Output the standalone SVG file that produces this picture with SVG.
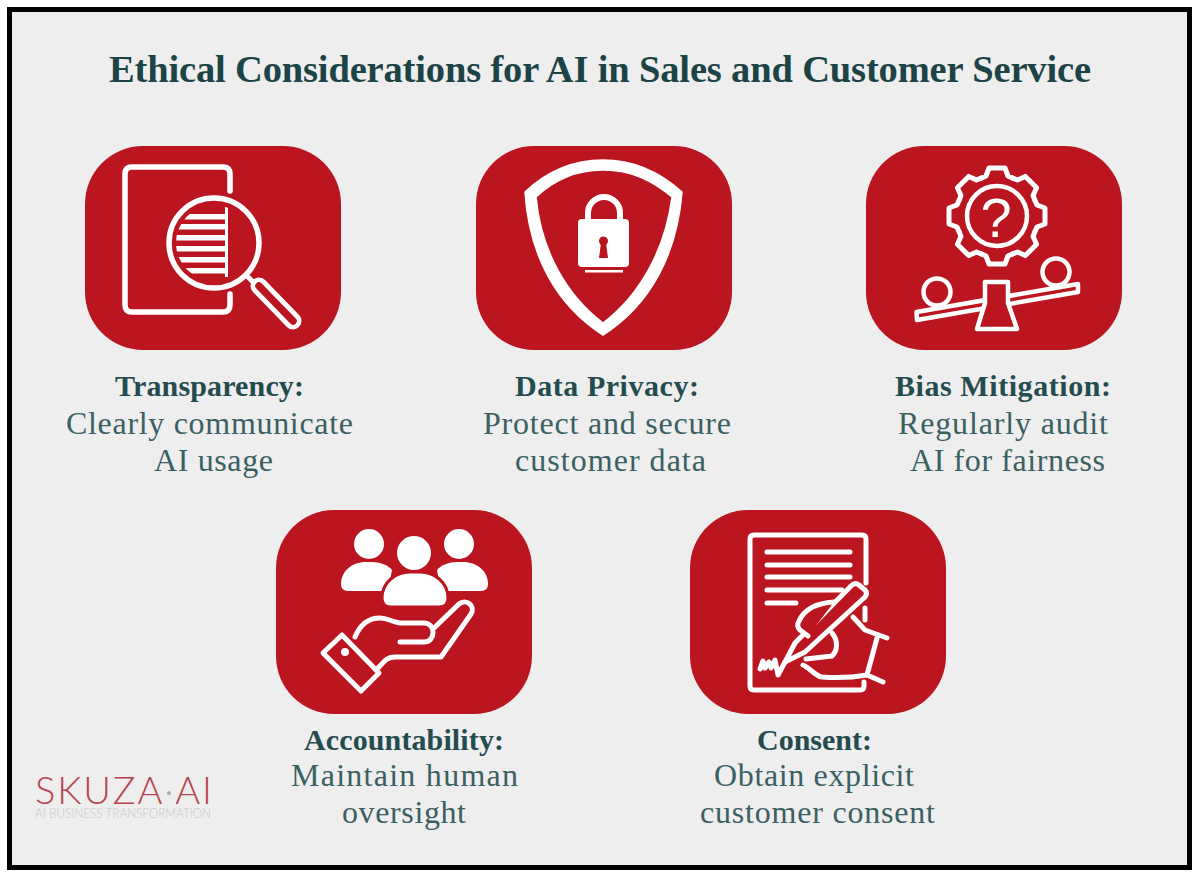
<svg xmlns="http://www.w3.org/2000/svg" xmlns:xlink="http://www.w3.org/1999/xlink" width="1200" height="882" viewBox="0 0 1200 882">
<style>
.card{fill:#bb1520}
.ln{fill:none;stroke:#fff;stroke-width:5;stroke-linecap:round;stroke-linejoin:round}
.wf{fill:#fff}
.rf{fill:#bb1520}
.title{font:bold 38.500px "Liberation Serif",serif;fill:#1c4446}
.h{font:bold 30px "Liberation Serif",serif;fill:#244c4e}
.b{font:32px "Liberation Serif",serif;fill:#3a6062}
</style>
<defs>
<clipPath id="lens"><circle cx="214" cy="243" r="38"/></clipPath>
<path id="tooth" d="M-15.7,-37.9 L-11,-40 L-8,-48 H8 L11,-40 L15.7,-37.9" class="ln"/>
</defs>
<rect x="9.500" y="9.500" width="1180" height="858" fill="#eeeeee" stroke="#000" stroke-width="5"/>
<text class="title" x="109" y="82" textLength="982" lengthAdjust="spacing">Ethical Considerations for AI in Sales and Customer Service</text>

<g id="transparency">
<rect class="card" x="85" y="146" width="256" height="204" rx="58"/>
<path class="ln" style="stroke-width:5.500" d="M230,191 V174 Q230,167 223,167 H132 Q125,167 125,174 V305 Q125,312 132,312 H223 Q230,312 230,305 V294"/>
<circle cx="214" cy="243" r="45" fill="none" stroke="#fff" stroke-width="5.500"/>
<g clip-path="url(#lens)" class="wf">
<rect x="170" y="214" width="57" height="5.500"/><rect x="170" y="224" width="57" height="5.500"/><rect x="170" y="235" width="57" height="5.500"/><rect x="170" y="246" width="57" height="5.500"/><rect x="170" y="257" width="57" height="5.500"/><rect x="170" y="268" width="57" height="5.500"/>
<rect x="225" y="205" width="3" height="72"/>
</g>
<path class="ln" d="M246,275 L254,283"/>
<path d="M259,286 L293,321" fill="none" stroke="#fff" stroke-width="17" stroke-linecap="round"/>
<path d="M259,286 L293,321" fill="none" stroke="#bb1520" stroke-width="7.500" stroke-linecap="round"/>
<text class="h" x="115" y="396" textLength="189" lengthAdjust="spacing">Transparency:</text>
<text class="b" x="66" y="434" textLength="287" lengthAdjust="spacing">Clearly communicate</text>
<text class="b" x="154" y="471" textLength="119" lengthAdjust="spacing">AI usage</text>
</g>

<g id="data-privacy">
<rect class="card" x="476" y="146" width="256" height="204" rx="58"/>
<path class="wf" fill-rule="evenodd" stroke="#fff" stroke-width="1.500" stroke-linejoin="round" d="M603,160 C636,160 662,174 682,192 C677,255 650,305 603,335 C556,305 529,255 525,192 C544,174 570,160 603,160 Z M603,170 C574,170 553,181 536,197 C541,250 566,295 603,323 C640,295 665,250 672,197 C653,181 632,170 603,170 Z"/>
<rect class="wf" x="578" y="219" width="51" height="48" rx="4"/>
<path d="M588,221 V213 A16,16 0 0 1 620,213 V221" fill="none" stroke="#fff" stroke-width="6"/>
<rect class="wf" x="585" y="270" width="38" height="2.500"/>
<circle class="rf" cx="603.500" cy="241" r="4.500"/>
<path class="rf" d="M601,243 H606 L608,258 H599 Z"/>
<text class="h" x="515" y="396" textLength="184" lengthAdjust="spacing">Data Privacy:</text>
<text class="b" x="483" y="434" textLength="248" lengthAdjust="spacing">Protect and secure</text>
<text class="b" x="515" y="471" textLength="191" lengthAdjust="spacing">customer data</text>
</g>

<g id="bias-mitigation">
<rect class="card" x="866" y="146" width="256" height="204" rx="58"/>
<g transform="translate(997,216)">
<use xlink:href="#tooth" href="#tooth"/>
<use xlink:href="#tooth" href="#tooth" transform="rotate(45)"/>
<use xlink:href="#tooth" href="#tooth" transform="rotate(90)"/>
<use xlink:href="#tooth" href="#tooth" transform="rotate(135)"/>
<use xlink:href="#tooth" href="#tooth" transform="rotate(180)"/>
<use xlink:href="#tooth" href="#tooth" transform="rotate(225)"/>
<use xlink:href="#tooth" href="#tooth" transform="rotate(270)"/>
<use xlink:href="#tooth" href="#tooth" transform="rotate(315)"/>
<circle r="30" fill="none" stroke="#fff" stroke-width="4.500"/>
</g>
<text x="996" y="237" text-anchor="middle" font-family="'Liberation Sans',sans-serif" font-size="56" fill="#fff">?</text>
<circle cx="937" cy="292" r="13.500" fill="none" stroke="#fff" stroke-width="4.500"/>
<circle cx="1056" cy="272" r="13.500" fill="none" stroke="#fff" stroke-width="4.500"/>
<path class="ln" style="fill:#bb1520;stroke-width:4.500" d="M916.500,312 L1078,284 V292 L917,320 Z"/>
<path class="ln" style="fill:#bb1520;stroke-width:4.500" d="M985,282 H1008 V303 L1017,329 H977 L985,303 Z"/>
<text class="h" x="895" y="396" textLength="216" lengthAdjust="spacing">Bias Mitigation:</text>
<text class="b" x="898" y="434" textLength="210" lengthAdjust="spacing">Regularly audit</text>
<text class="b" x="910" y="471" textLength="195" lengthAdjust="spacing">AI for fairness</text>
</g>

<g id="accountability">
<rect class="card" x="276" y="510" width="256" height="204" rx="58"/>
<circle class="wf" cx="369" cy="544" r="15"/>
<circle class="wf" cx="459" cy="544" r="15"/>
<circle class="wf" cx="414" cy="553" r="17"/>
<path class="wf" d="M341,584 C341,571 352,562 366,562 H372 C380,562 388,565 392,570 L388,591 H348 Q341,591 341,584 Z"/>
<path class="wf" d="M488,584 C488,571 477,562 463,562 H457 C449,562 441,565 437,570 L441,591 H481 Q488,591 488,584 Z"/>
<path class="wf" stroke="#bb1520" stroke-width="3" d="M382,598 C382,582 396,572 410,572 H420 C434,572 448,582 448,598 Q448,607 439,607 H391 Q382,607 382,598 Z"/>
<path class="ln" d="M323,653 L342,635 L379,673 L361,691 Z"/>
<circle class="wf" cx="345" cy="652" r="4"/>
<path class="ln" d="M355,637 C360,625 368,618 380,618 C388,618 392,622 400,623 H424 C436,623 436,642 424,642 H400"/>
<path class="ln" d="M433,629 L459,604 C466,598 476,606 471,614 L441,657 H395 C386,657 384,662 378,668"/>
<text class="h" x="304" y="750" textLength="200" lengthAdjust="spacing">Accountability:</text>
<text class="b" x="291" y="786" textLength="227" lengthAdjust="spacing">Maintain human</text>
<text class="b" x="342" y="823" textLength="124" lengthAdjust="spacing">oversight</text>
</g>

<g id="consent">
<rect class="card" x="690" y="510" width="256" height="204" rx="58"/>
<path class="ln" d="M866,583 V539 Q866,535 862,535 H754 Q750,535 750,539 V686 Q750,690 754,690 H860 Q864,690 864,686 V682 M865,608 V620"/>
<path class="ln" d="M767,552 H850 M767,565 H850 M767,577 H850 M767,590 H842 M767,603 H796"/>
<path class="ln" style="fill:#bb1520" d="M851,586 Q855,582 859,585 L865,590 Q868,593 865,597 L805,652 L785,662 L795,643 Z"/>
<path class="ln" style="fill:#bb1520" d="M808,636 L800,630 Q796,626 799,621 C804,610 816,603 834,602"/>
<path class="ln" d="M760,669 L763,661 L765,668 L769,662 L771,668 L775,660 L778,675 L785,662"/>
<path class="ln" d="M853,617 L865,630 L887,638 M877,638 L867,675 L883,682 M867,675 C850,678 835,678 822,677 C815,676 810,668 803,665 M832,633 C838,640 838,650 832,656 L806,659"/>
<text class="h" x="757" y="750" textLength="115" lengthAdjust="spacing">Consent:</text>
<text class="b" x="714" y="786" textLength="200" lengthAdjust="spacing">Obtain explicit</text>
<text class="b" x="700" y="823" textLength="235" lengthAdjust="spacing">customer consent</text>
</g>

<g id="logo">
<text x="35" y="804" font-family="Lato,'Liberation Sans',sans-serif" font-weight="300" font-size="38" fill="#b8434f" textLength="177" lengthAdjust="spacing">SKUZA<tspan fill="#a9a9a9">·</tspan>AI</text>
<text x="35" y="818" font-family="Lato,'Liberation Sans',sans-serif" font-weight="300" font-size="14" fill="#c9c9c9" textLength="176" lengthAdjust="spacingAndGlyphs">AI BUSINESS TRANSFORMATION</text>
</g>
</svg>
